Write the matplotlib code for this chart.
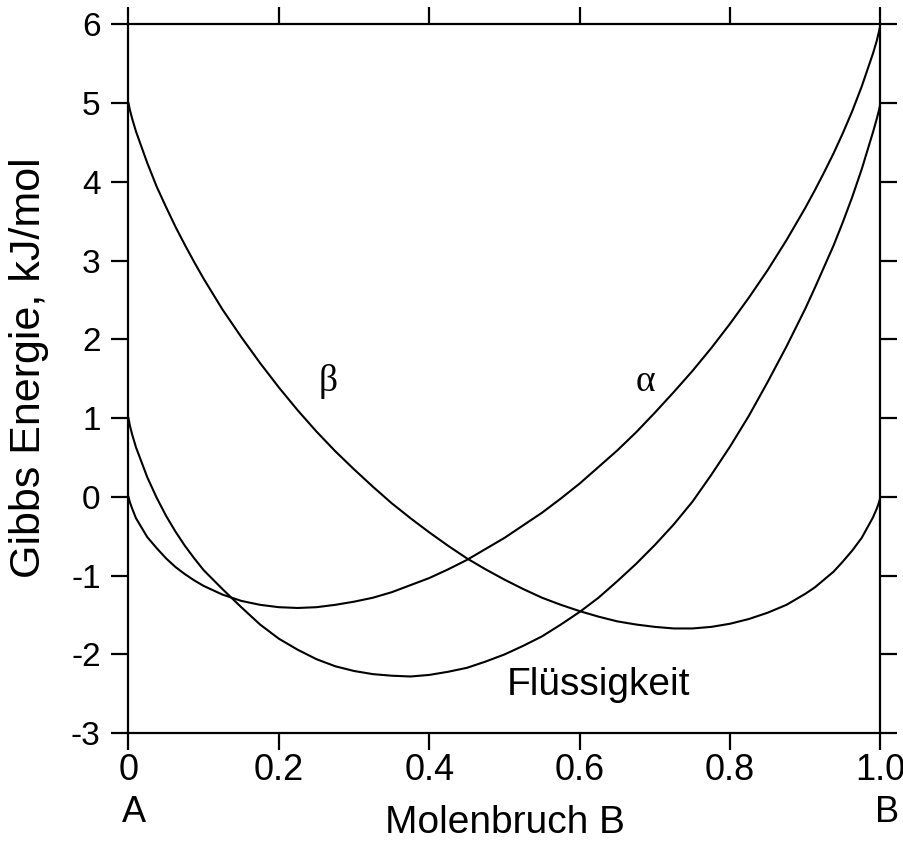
import matplotlib
matplotlib.use('Agg')
import matplotlib.pyplot as plt

# mole fraction of B and Gibbs energies (kJ/mol)
x_frac = [0, 0.002, 0.005, 0.01, 0.025, 0.0375, 0.05, 0.0625, 0.075, 0.0875, 0.1,
          0.125, 0.15, 0.175, 0.2, 0.225, 0.25, 0.275, 0.3, 0.325, 0.35, 0.375, 0.4,
          0.425, 0.45, 0.475, 0.5, 0.525, 0.55, 0.575, 0.6, 0.625, 0.65, 0.675, 0.7,
          0.725, 0.75, 0.775, 0.8, 0.825, 0.85, 0.875, 0.9, 0.9125, 0.925, 0.9375,
          0.95, 0.9625, 0.975, 0.99, 0.995, 0.998, 1.0]
g_alpha = [0.0, -0.07, -0.15, -0.27, -0.51, -0.65, -0.78, -0.89, -0.98, -1.06, -1.13,
           -1.24, -1.32, -1.37, -1.40, -1.41, -1.40, -1.37, -1.33, -1.28, -1.21, -1.12, -1.03,
           -0.92, -0.80, -0.66, -0.52, -0.36, -0.20, -0.02, 0.17, 0.38, 0.59, 0.82, 1.07,
           1.33, 1.60, 1.89, 2.20, 2.53, 2.88, 3.26, 3.67, 3.89, 4.12, 4.36,
           4.62, 4.90, 5.21, 5.63, 5.79, 5.91, 6.0]
g_beta = [5.0, 4.91, 4.80, 4.64, 4.24, 3.94, 3.68, 3.43, 3.20, 2.98, 2.77,
          2.38, 2.03, 1.70, 1.39, 1.10, 0.83, 0.58, 0.35, 0.13, -0.08, -0.27, -0.45,
          -0.62, -0.78, -0.92, -1.05, -1.17, -1.28, -1.37, -1.45, -1.52, -1.58, -1.62, -1.65,
          -1.67, -1.67, -1.65, -1.61, -1.55, -1.47, -1.37, -1.23, -1.15, -1.05, -0.95,
          -0.82, -0.68, -0.52, -0.26, -0.15, -0.07, 0.0]
g_liquid = [1.0, 0.90, 0.79, 0.63, 0.25, -0.01, -0.24, -0.44, -0.62, -0.78, -0.93,
            -1.17, -1.40, -1.62, -1.80, -1.94, -2.06, -2.15, -2.21, -2.25, -2.27, -2.28, -2.26,
            -2.22, -2.17, -2.09, -2.00, -1.89, -1.77, -1.62, -1.46, -1.28, -1.07, -0.85, -0.61,
            -0.35, -0.06, 0.28, 0.64, 1.03, 1.46, 1.91, 2.39, 2.65, 2.92, 3.19,
            3.49, 3.81, 4.16, 4.63, 4.80, 4.91, 5.0]

x_ticks = [0, 0.2, 0.4, 0.6, 0.8, 1.0]
x_tick_labels = ['0', '0.2', '0.4', '0.6', '0.8', '1.0']
y_ticks = [-3, -2, -1, 0, 1, 2, 3, 4, 5, 6]

sans = ['Liberation Sans', 'DejaVu Sans']
serif = ['Liberation Serif', 'DejaVu Serif']
plt.rcParams['font.family'] = sans

fig = plt.figure(figsize=(9.04, 8.42), dpi=100)
ax = fig.add_axes([0.1421, 0.1292, 0.8319, 0.8419])

for g in (g_alpha, g_beta, g_liquid):
    ax.plot(x_frac, g, color='black', lw=1.5, solid_joinstyle='round')

ax.set_xlim(0, 1)
ax.set_ylim(-3, 6)
ax.set_xticks(x_ticks)
ax.set_xticklabels(x_tick_labels)
ax.set_yticks(y_ticks)
ax.set_yticklabels([str(v) for v in y_ticks])

for sp in ax.spines.values():
    sp.set_linewidth(1.6)
ax.tick_params(direction='out', length=12, width=1.6, top=True, right=True,
               labeltop=False, labelright=False)
ax.tick_params(axis='x', labelsize=26, pad=2.5)
ax.tick_params(axis='y', labelsize=24, pad=8)

# axis titles
ax.set_xlabel('Molenbruch B', fontsize=28, va='bottom')
ax.xaxis.set_label_coords(0.5, -0.1521)
ax.set_ylabel('Gibbs Energie, kJ/mol', fontsize=31, va='center')
ax.yaxis.set_label_coords(-0.1323, 0.515)

# pure components under the axis ends
trans = ax.get_xaxis_transform()
ax.text(0.0073, -0.1253, 'A', transform=trans, ha='center', va='baseline', fontsize=26)
ax.text(1.0087, -0.1253, 'B', transform=trans, ha='center', va='baseline', fontsize=26)

# phase labels
ax.text(0.265, 1.47, '\u03b2', ha='center', va='center', fontsize=27, family=serif)
ax.text(0.688, 1.46, '\u03b1', ha='center', va='center', fontsize=27, family=serif)
ax.text(0.625, -2.52, 'Flüssigkeit', ha='center', va='baseline', fontsize=28)

fig.savefig('out.png', dpi=100)
